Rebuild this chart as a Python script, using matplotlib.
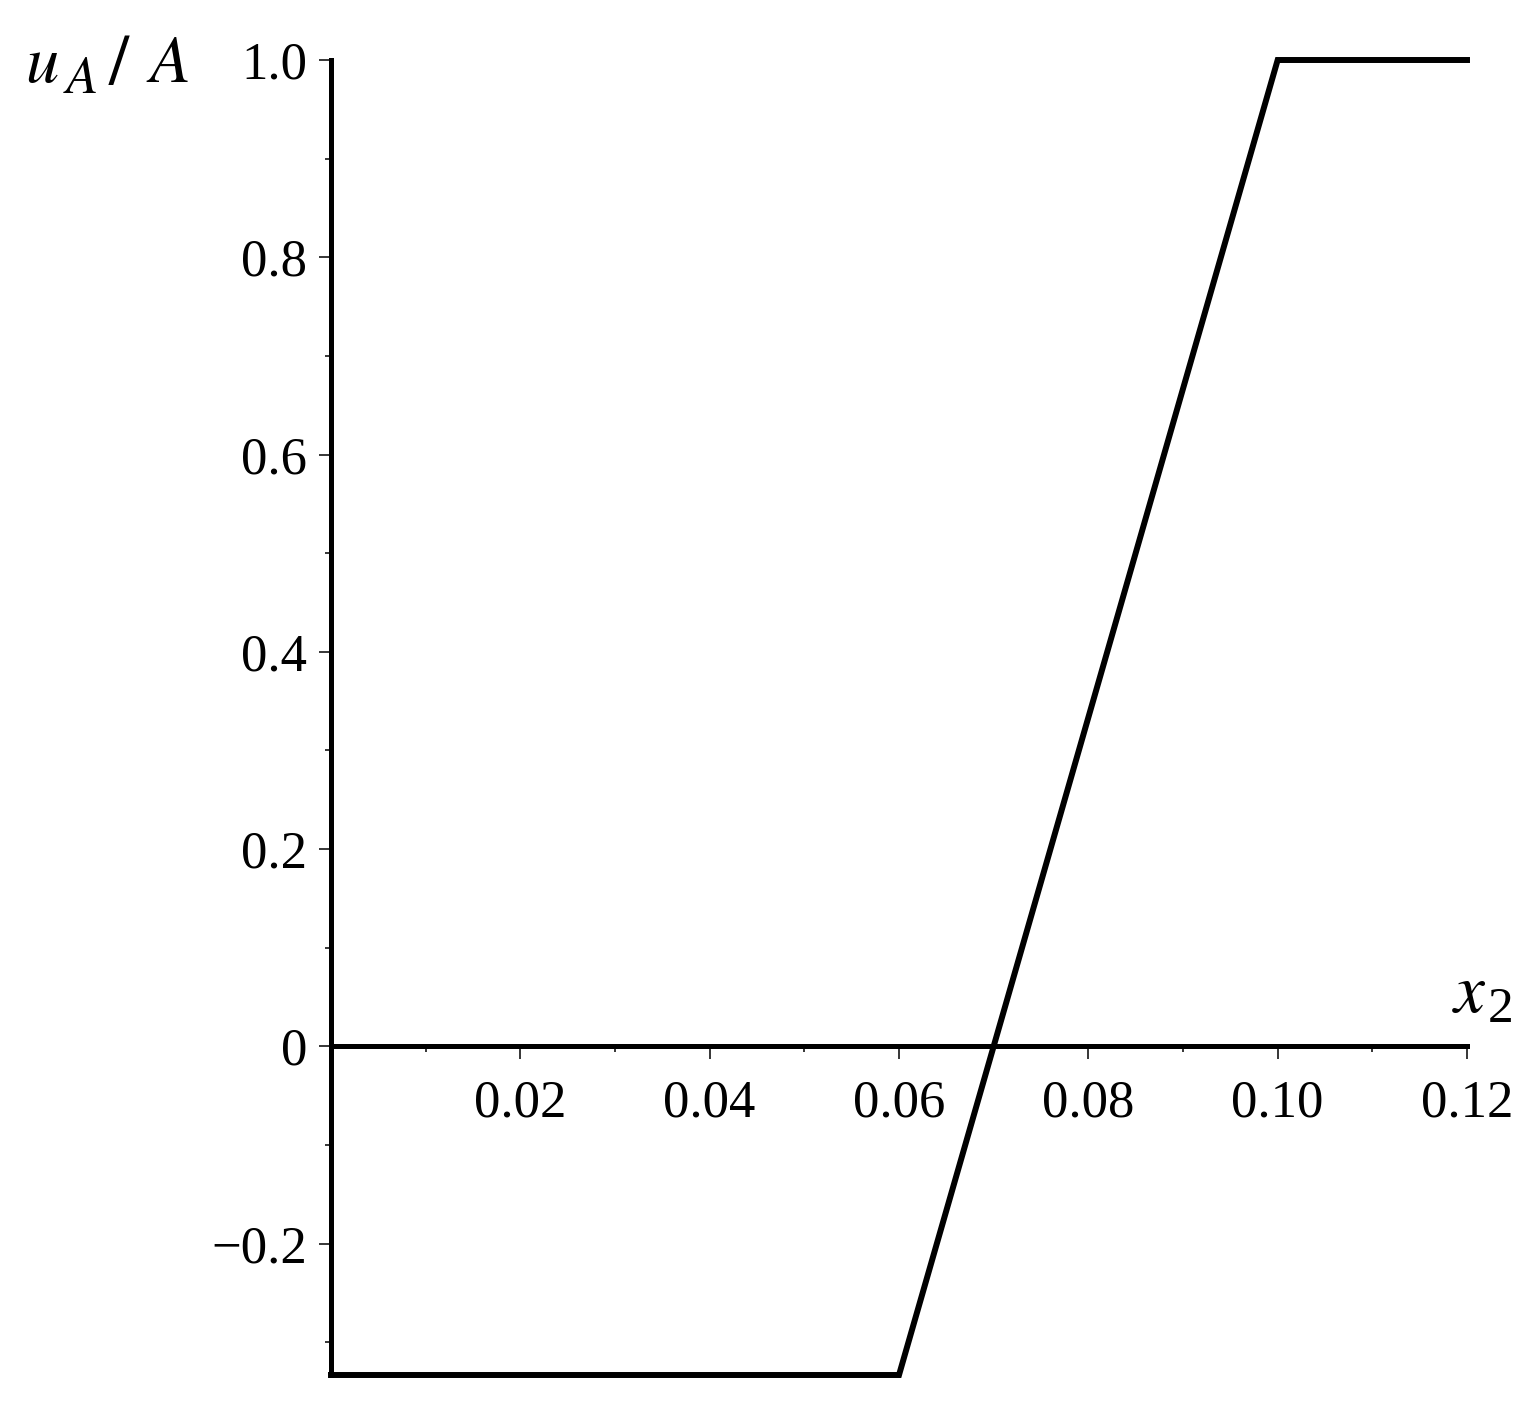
import matplotlib
matplotlib.use("Agg")
import matplotlib.pyplot as plt
from matplotlib.ticker import FixedLocator, MultipleLocator

# piecewise linear profile u_A / A over x_2
x_pts = [0.0, 0.06, 0.10, 0.12]
y_pts = [-0.3333, -0.3333, 1.0, 1.0]

x_major = [0.02, 0.04, 0.06, 0.08, 0.10, 0.12]
x_labels = ["0.02", "0.04", "0.06", "0.08", "0.10", "0.12"]
y_major = [-0.2, 0.0, 0.2, 0.4, 0.6, 0.8, 1.0]
y_labels = ["\u22120.2", "0", "0.2", "0.4", "0.6", "0.8", "1.0"]

plt.rcParams['font.family'] = ['Liberation Serif', 'DejaVu Serif']
plt.rcParams['mathtext.fontset'] = 'stix'

W, H = 1537, 1404
fig = plt.figure(figsize=(W / 100, H / 100), dpi=100)
ax = fig.add_axes([331 / W, 1 - 1375 / H, (1467 - 331) / W, (1375 - 60) / H])

ax.plot(x_pts, y_pts, color='black', lw=4.3, solid_joinstyle='miter', clip_on=False)

ax.set_xlim(0, 0.12)
ax.set_ylim(-0.3333, 1.0)

for s in ['top', 'right']:
    ax.spines[s].set_visible(False)
ax.spines['bottom'].set_position(('data', 0))
ax.spines['bottom'].set_linewidth(3.6)
ax.spines['left'].set_linewidth(3.6)

ax.xaxis.set_major_locator(FixedLocator(x_major))
ax.set_xticklabels(x_labels)
ax.xaxis.set_minor_locator(MultipleLocator(0.01))
ax.yaxis.set_major_locator(FixedLocator(y_major))
ax.set_yticklabels(y_labels)
ax.yaxis.set_minor_locator(MultipleLocator(0.1))

ax.tick_params(axis='both', which='major', direction='out', length=9, width=1.1,
               labelsize=38, color='black')
ax.tick_params(axis='both', which='minor', direction='out', length=4, width=1.1,
               color='black')
ax.tick_params(axis='x', which='major', pad=15)
ax.tick_params(axis='y', which='major', pad=8)


def px_text(x, y, s, size):
    # place text by pixel position (left, baseline) in the figure
    fig.text(x / W, 1 - y / H, s, fontsize=size, ha='left', va='baseline')


# y label: u_A / A
px_text(25, 82, r'$u$', 48)
px_text(63, 93, r'$A$', 38)
px_text(108, 84, r'$/$', 52)
px_text(146, 82, r'$A$', 48)

# x label: x_2
px_text(1452, 1012, r'$x$', 50)
px_text(1488, 1022, '2', 37)

fig.savefig('out.png', dpi=100, facecolor='white')
